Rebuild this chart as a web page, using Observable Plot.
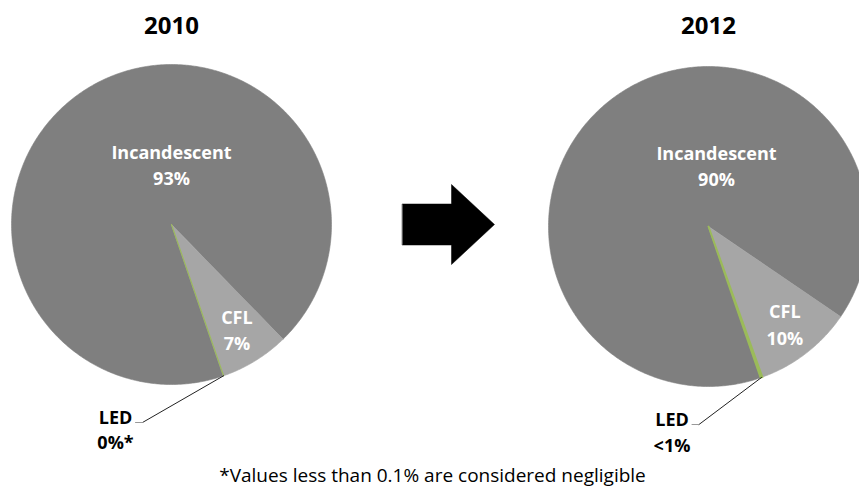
<!DOCTYPE html>
<html><head><meta charset="utf-8">
<script src="https://cdn.jsdelivr.net/npm/d3@7"></script>
<script src="https://cdn.jsdelivr.net/npm/@observablehq/plot@0.6"></script>
<style>body{margin:0;background:#fff}</style>
</head><body><div id="chart"></div>
<script>
// ---- data ----
const years = ["2010", "2012"];
const categories = ["LED", "Incandescent", "CFL"];
const values2010 = [0, 93, 7];
const values2012 = [0.2, 89.8, 10];
const valueLabels2010 = ["0%*", "93%", "7%"];
const valueLabels2012 = ["<1%", "90%", "10%"];
const footnote = "*Values less than 0.1% are considered negligible";

// ---- layout ----
const W = 859, H = 489, R = 160;
const centers = [[171, 224], [708, 226]];
const startDeg = [161, 160.3];
const incOffset = [[0, -59], [8, -60]];
const ledLabelPos = [[115, 423], [671.5, 425]];
const ledValueGap = [25, 26];
const ledStroke = [1.1, 1.8];
const titleBaseline = 33;
const colorRange = ["#9bbb59", "#7f7f7f", "#a6a6a6"];
const FONT = "'Open Sans', Lato, sans-serif";

const slicePts = [], nameLabels = [], valueLabels = [], ledNames = [], ledValues = [], leaders = [], titles = [];
years.forEach((yr, i) => {
  const vals = i ? values2012 : values2010;
  const vlab = i ? valueLabels2012 : valueLabels2010;
  const [cx, cy] = centers[i];
  const s = startDeg[i] * Math.PI / 180;
  const arcs = d3.pie().sort(null).startAngle(s).endAngle(s + 2 * Math.PI)(vals);
  titles.push({x: cx, y: titleBaseline, text: yr});
  arcs.forEach((a, j) => {
    const cat = categories[j];
    const key = yr + "-" + cat;
    const n = Math.max(2, Math.ceil((a.endAngle - a.startAngle) / 0.01));
    slicePts.push({x: cx, y: cy, key, cat, year: yr});
    for (let k = 0; k <= n; k++) {
      const t = a.startAngle + (a.endAngle - a.startAngle) * k / n;
      slicePts.push({x: cx + R * Math.sin(t), y: cy - R * Math.cos(t), key, cat, year: yr});
    }
    const mid = (a.startAngle + a.endAngle) / 2;
    let lx, ly;
    if (cat === "CFL") {
      lx = cx + 0.78 * R * Math.sin(mid); ly = cy - 0.78 * R * Math.cos(mid);
    } else if (cat === "Incandescent") {
      lx = cx + incOffset[i][0]; ly = cy + incOffset[i][1];
    }
    if (cat !== "LED") {
      nameLabels.push({x: lx, y: ly - 7, text: cat});
      valueLabels.push({x: lx, y: ly + 19.5, text: vlab[j]});
    } else {
      const [px, py] = ledLabelPos[i];
      ledNames.push({x: px, y: py, text: cat});
      ledValues.push({x: px, y: py + ledValueGap[i], text: vlab[j]});
      leaders.push({x: cx + R * Math.sin(mid), y: cy - R * Math.cos(mid), key, seg: 0});
      leaders.push({x: px + 27, y: py - 1, key, seg: 1});
      leaders.push({x: px + 20, y: py - 1, key, seg: 2});
    }
  });
});

// block arrow between pies
const ax = 402, aw = 92, ay = 224, shaftH = 41, headH = 80, headL = 43;
const arrow = [
  {x: ax, y: ay - shaftH / 2}, {x: ax + aw - headL, y: ay - shaftH / 2},
  {x: ax + aw - headL, y: ay - headH / 2}, {x: ax + aw, y: ay},
  {x: ax + aw - headL, y: ay + headH / 2}, {x: ax + aw - headL, y: ay + shaftH / 2},
  {x: ax, y: ay + shaftH / 2}
];

const mainSlices = slicePts.filter(d => d.cat !== "LED");
const ledMarks = years.map((yr, i) =>
  Plot.line(slicePts.filter(d => d.cat === "LED" && d.year === yr),
    {x: "x", y: "y", z: "key", fill: "cat", stroke: "cat", strokeWidth: ledStroke[i], curve: "linear-closed"}));

const chart = Plot.plot({
  width: W, height: H,
  margin: 0,
  x: {domain: [0, W], range: [0, W], axis: null},
  y: {domain: [0, H], range: [0, H], axis: null},
  color: {domain: categories, range: colorRange},
  style: {fontFamily: FONT, background: "#fff"},
  marks: [
    Plot.line(mainSlices, {x: "x", y: "y", z: "key", fill: "cat", stroke: "cat", strokeWidth: 0.6, curve: "linear-closed"}),
    ...ledMarks,
    Plot.line(leaders.filter(d => d.seg < 2), {x: "x", y: "y", z: "key", stroke: "#222", strokeWidth: 1}),
    Plot.line(leaders.filter(d => d.seg > 0), {x: "x", y: "y", z: "key", stroke: "#999", strokeWidth: 1}),
    Plot.line(arrow, {x: "x", y: "y", fill: "#000", stroke: "#000", strokeWidth: 0.5, curve: "linear-closed"}),
    Plot.text(titles, {x: "x", y: "y", text: "text", fontSize: 24, fontWeight: "bold", fill: "#000", lineAnchor: "bottom"}),
    Plot.text(nameLabels, {x: "x", y: "y", text: "text", fontSize: 18, fontWeight: "bold", fill: "#fff", lineAnchor: "bottom"}),
    Plot.text(valueLabels, {x: "x", y: "y", text: "text", fontSize: 18, fontWeight: "bold", fill: "#fff", lineAnchor: "bottom"}),
    Plot.text(ledNames, {x: "x", y: "y", text: "text", fontSize: 18, fontWeight: "bold", fill: "#000", lineAnchor: "bottom"}),
    Plot.text(ledValues, {x: "x", y: "y", text: "text", fontSize: 18, fontWeight: "bold", fill: "#000", lineAnchor: "bottom"}),
    Plot.text([footnote], {x: () => 432, y: () => 481, text: d => d, fontSize: 19, fill: "#000", lineAnchor: "bottom"})
  ]
});
document.getElementById("chart").append(chart);
</script>
</body></html>
